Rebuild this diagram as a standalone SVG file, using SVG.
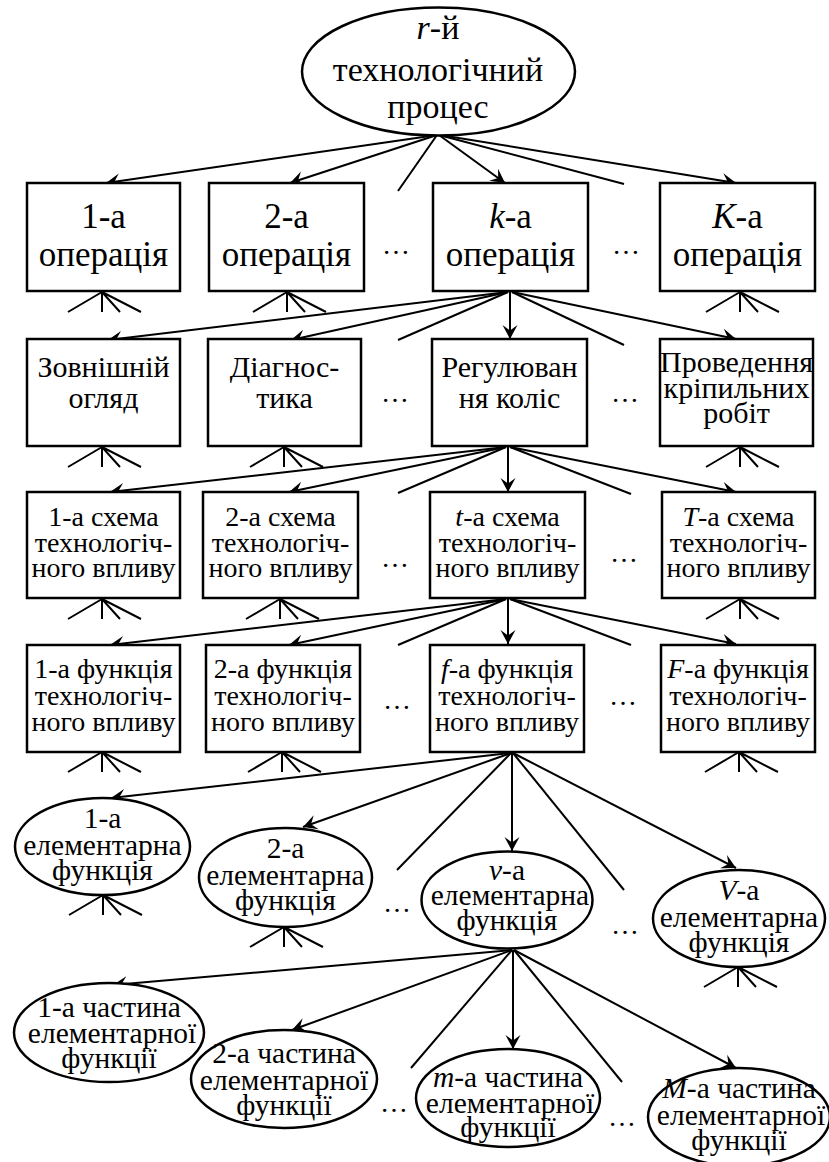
<svg xmlns="http://www.w3.org/2000/svg" width="829" height="1162" viewBox="0 0 829 1162">
<style>
  text { font-family: "Liberation Serif", "DejaVu Serif", serif; text-anchor: middle; fill: #000; }
  .n { fill: #fff; stroke: #000; stroke-width: 2.5; }
  .t0 { font-size: 34px; }
  .t1 { font-size: 35px; }
  .t2 { font-size: 30px; }
  .t3 { font-size: 28px; }
  .t5 { font-size: 29.5px; }
  .d { font-size: 28px; }
  .i { font-style: italic; }
  .c line { stroke: #000; stroke-width: 2; }
  .c line.a { marker-end: url(#ah); }
  .f path, path.fan { fill: none; stroke: #000; stroke-width: 2; }
</style>
<defs>
  <marker id="ah" markerUnits="userSpaceOnUse" viewBox="-15 -9 17 18" markerWidth="17" markerHeight="18" refX="0" refY="0" orient="auto">
    <path d="M0,0 L-14,-7.5 L-8.5,0 L-14,7.5 Z" fill="#000"/>
  </marker>
  <path id="fan" class="fan" d="M0,0 L-34,20 M0,0 L0,20 M0,0 L18,20 M0,0 L39,20"/>
</defs>

<!-- connectors -->
<g id="connectors" class="c">
  <line class="a" x1="437" y1="135" x2="106" y2="183"/>
  <line class="a" x1="437" y1="135" x2="290" y2="183"/>
  <line x1="437" y1="135" x2="398" y2="191"/>
  <line class="a" x1="439" y1="135" x2="505" y2="183"/>
  <line x1="439" y1="135" x2="624" y2="184"/>
  <line class="a" x1="440" y1="135" x2="736" y2="183"/>

  <line class="a" x1="508" y1="292" x2="108" y2="340"/>
  <line class="a" x1="508" y1="292" x2="291" y2="340"/>
  <line x1="508" y1="292" x2="398" y2="340"/>
  <line class="a" x1="510" y1="292" x2="510" y2="339"/>
  <line x1="512" y1="292" x2="624" y2="345"/>
  <line class="a" x1="512" y1="292" x2="736" y2="339"/>

  <line class="a" x1="506" y1="447" x2="110" y2="492"/>
  <line class="a" x1="506" y1="447" x2="289" y2="492"/>
  <line x1="506" y1="447" x2="398" y2="493"/>
  <line class="a" x1="508" y1="447" x2="508" y2="492"/>
  <line x1="510" y1="447" x2="631" y2="494"/>
  <line class="a" x1="510" y1="447" x2="736" y2="492"/>

  <line class="a" x1="506" y1="599" x2="110" y2="645"/>
  <line class="a" x1="506" y1="599" x2="289" y2="645"/>
  <line x1="506" y1="599" x2="398" y2="645"/>
  <line class="a" x1="508" y1="599" x2="508" y2="644"/>
  <line x1="510" y1="599" x2="631" y2="645"/>
  <line class="a" x1="510" y1="599" x2="736" y2="644"/>

  <line class="a" x1="511" y1="753" x2="111" y2="798"/>
  <line class="a" x1="511" y1="753" x2="303" y2="827"/>
  <line x1="511" y1="753" x2="397" y2="870"/>
  <line class="a" x1="512" y1="753" x2="512" y2="851"/>
  <line x1="513" y1="753" x2="624" y2="890"/>
  <line class="a" x1="513" y1="753" x2="736" y2="868"/>

  <line class="a" x1="512" y1="950" x2="113" y2="985"/>
  <line class="a" x1="512" y1="950" x2="292" y2="1030"/>
  <line x1="512" y1="950" x2="411" y2="1068"/>
  <line class="a" x1="513" y1="950" x2="513" y2="1049"/>
  <line x1="514" y1="950" x2="622" y2="1082"/>
  <line class="a" x1="514" y1="950" x2="736" y2="1068"/>
</g>

<!-- incoming fan marks -->
<g id="fans" class="f">
  <use href="#fan" x="102" y="292"/>
  <use href="#fan" x="287" y="292"/>
  <use href="#fan" x="740" y="292"/>
  <use href="#fan" x="102" y="447"/>
  <use href="#fan" x="284" y="447"/>
  <use href="#fan" x="740" y="447"/>
  <use href="#fan" x="102" y="599"/>
  <use href="#fan" x="280" y="599"/>
  <use href="#fan" x="740" y="599"/>
  <use href="#fan" x="102" y="752"/>
  <use href="#fan" x="282" y="752"/>
  <use href="#fan" x="739" y="752"/>
  <use href="#fan" x="103" y="895"/>
  <use href="#fan" x="284" y="927"/>
  <use href="#fan" x="738" y="967"/>
</g>

<!-- root -->
<g id="process">
  <ellipse class="n" cx="438.5" cy="71.5" rx="136.5" ry="64"/>
  <text class="t0" x="438" y="39"><tspan class="i">r</tspan>-й</text>
  <text class="t0" x="438" y="81">технологічний</text>
  <text class="t0" x="438" y="118">процес</text>
</g>

<!-- row 1: operations -->
<g id="op1"><rect class="n" x="27" y="183" width="153" height="108"/>
  <text class="t1" x="103.5" y="228">1-а</text><text class="t1" x="103.5" y="266">операція</text></g>
<g id="op2"><rect class="n" x="209" y="183" width="155" height="108"/>
  <text class="t1" x="286.5" y="228">2-а</text><text class="t1" x="286.5" y="266">операція</text></g>
<g id="opk"><rect class="n" x="433" y="183" width="155" height="108"/>
  <text class="t1" x="510.5" y="228"><tspan class="i">k</tspan>-а</text><text class="t1" x="510.5" y="266">операція</text></g>
<g id="opK"><rect class="n" x="660" y="183" width="155" height="108"/>
  <text class="t1" x="737.5" y="228"><tspan class="i">K</tspan>-а</text><text class="t1" x="737.5" y="266">операція</text></g>
<text class="d" x="396" y="254">…</text>
<text class="d" x="626" y="254">…</text>

<!-- row 2: works -->
<g id="w1"><rect class="n" x="27" y="339" width="153" height="107"/>
  <text class="t2" x="103.5" y="377">Зовнішній</text><text class="t2" x="103.5" y="408">огляд</text></g>
<g id="w2"><rect class="n" x="208" y="339" width="153" height="107"/>
  <text class="t2" x="284.5" y="377">Діагнос-</text><text class="t2" x="284.5" y="408">тика</text></g>
<g id="w3"><rect class="n" x="432" y="339" width="155" height="107"/>
  <text class="t2" x="509.5" y="377">Регулюван</text><text class="t2" x="509.5" y="408">ня коліс</text></g>
<g id="w4"><rect class="n" x="660" y="339" width="153" height="107"/>
  <text class="t2" x="736.5" y="372">Проведення</text><text class="t2" x="736.5" y="398">кріпильних</text><text class="t2" x="736.5" y="423">робіт</text></g>
<text class="d" x="395" y="402">…</text>
<text class="d" x="625" y="402">…</text>

<!-- row 3: schemes -->
<g id="s1"><rect class="n" x="27" y="492" width="153" height="106"/>
  <text class="t3" x="103.5" y="526">1-а схема</text><text class="t3" x="103.5" y="552">технологіч-</text><text class="t3" x="103.5" y="577">ного впливу</text></g>
<g id="s2"><rect class="n" x="203" y="492" width="155" height="106"/>
  <text class="t3" x="280.5" y="526">2-а схема</text><text class="t3" x="280.5" y="552">технологіч-</text><text class="t3" x="280.5" y="577">ного впливу</text></g>
<g id="st"><rect class="n" x="430" y="492" width="155" height="106"/>
  <text class="t3" x="507.5" y="526"><tspan class="i">t</tspan>-а схема</text><text class="t3" x="507.5" y="552">технологіч-</text><text class="t3" x="507.5" y="577">ного впливу</text></g>
<g id="sT"><rect class="n" x="662" y="492" width="153" height="106"/>
  <text class="t3" x="738.5" y="526"><tspan class="i">T</tspan>-а схема</text><text class="t3" x="738.5" y="552">технологіч-</text><text class="t3" x="738.5" y="577">ного впливу</text></g>
<text class="d" x="395" y="567">…</text>
<text class="d" x="624" y="562">…</text>

<!-- row 4: functions -->
<g id="f1"><rect class="n" x="27" y="645" width="153" height="107"/>
  <text class="t3" x="103.5" y="678">1-а функція</text><text class="t3" x="103.5" y="705">технологіч-</text><text class="t3" x="103.5" y="731">ного впливу</text></g>
<g id="f2"><rect class="n" x="206" y="645" width="154" height="107"/>
  <text class="t3" x="283" y="678">2-а функція</text><text class="t3" x="283" y="705">технологіч-</text><text class="t3" x="283" y="731">ного впливу</text></g>
<g id="ff"><rect class="n" x="430" y="645" width="154" height="107"/>
  <text class="t3" x="507" y="678"><tspan class="i">f</tspan>-а функція</text><text class="t3" x="507" y="705">технологіч-</text><text class="t3" x="507" y="731">ного впливу</text></g>
<g id="fF"><rect class="n" x="661" y="645" width="154" height="107"/>
  <text class="t3" x="738" y="678"><tspan class="i">F</tspan>-а функція</text><text class="t3" x="738" y="705">технологіч-</text><text class="t3" x="738" y="731">ного впливу</text></g>
<text class="d" x="397" y="709">…</text>
<text class="d" x="623" y="705">…</text>

<!-- row 5: elementary functions -->
<g id="e1"><ellipse class="n" cx="102.5" cy="846.5" rx="87.5" ry="48.5"/>
  <text class="t5" x="102.5" y="828">1-а</text><text class="t5" x="102.5" y="855">елементарна</text><text class="t5" x="102.5" y="880">функція</text></g>
<g id="e2"><ellipse class="n" cx="285.5" cy="877.5" rx="86.5" ry="49.5"/>
  <text class="t5" x="285.5" y="858">2-а</text><text class="t5" x="285.5" y="885">елементарна</text><text class="t5" x="285.5" y="910">функція</text></g>
<g id="ev"><ellipse class="n" cx="507" cy="900" rx="85.5" ry="48.5"/>
  <text class="t5" x="507" y="880"><tspan class="i">v</tspan>-а</text><text class="t5" x="510" y="905">елементарна</text><text class="t5" x="507" y="930">функція</text></g>
<g id="eV"><ellipse class="n" cx="739" cy="918.5" rx="86" ry="48.5"/>
  <text class="t5" x="739" y="900"><tspan class="i">V</tspan>-а</text><text class="t5" x="739" y="927">елементарна</text><text class="t5" x="739" y="952">функція</text></g>
<text class="d" x="397" y="912">…</text>
<text class="d" x="625" y="934">…</text>

<!-- row 6: parts of elementary function -->
<g id="p1"><ellipse class="n" cx="109" cy="1032.5" rx="95" ry="49.5"/>
  <text class="t5" x="109" y="1017">1-а частина</text><text class="t5" x="112" y="1043">елементарної</text><text class="t5" x="109" y="1068">функції</text></g>
<g id="p2"><ellipse class="n" cx="284" cy="1079" rx="93" ry="49"/>
  <text class="t5" x="284" y="1063">2-а частина</text><text class="t5" x="284" y="1090">елементарної</text><text class="t5" x="284" y="1115">функції</text></g>
<g id="pm"><ellipse class="n" cx="508" cy="1098" rx="92" ry="49"/>
  <text class="t5" x="508" y="1087"><tspan class="i">m</tspan>-а частина</text><text class="t5" x="510" y="1113">елементарної</text><text class="t5" x="508" y="1137">функції</text></g>
<g id="pM"><ellipse class="n" cx="739" cy="1117" rx="91" ry="49"/>
  <text class="t5" x="739" y="1098"><tspan class="i">M</tspan>-а частина</text><text class="t5" x="741" y="1125">елементарної</text><text class="t5" x="739" y="1150">функції</text></g>
<text class="d" x="394" y="1112">…</text>
<text class="d" x="622" y="1126">…</text>
</svg>
